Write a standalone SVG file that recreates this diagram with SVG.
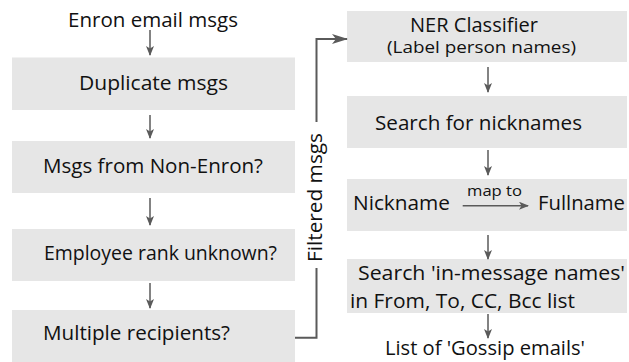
<svg xmlns="http://www.w3.org/2000/svg" width="629" height="362" viewBox="0 0 629 362">
<defs>
<style>
.box{fill:#e6e6e6;}
.t{font-family:"Open Sans","Liberation Sans",sans-serif;font-size:20px;fill:#111;}
.s{font-family:"Open Sans","Liberation Sans",sans-serif;font-size:17px;fill:#111;}
.xs{font-family:"Open Sans","Liberation Sans",sans-serif;font-size:15px;fill:#111;}
.c{text-anchor:middle;}
.ln{stroke:#5a5a5a;stroke-width:1.5;fill:none;}
.cn{stroke:#5a5a5a;stroke-width:2;fill:none;}
</style>
<marker id="ah" markerUnits="userSpaceOnUse" markerWidth="10" markerHeight="8" refX="9" refY="4" orient="auto">
<path d="M0,0 L10,4 L0,8 L2.5,4 z" fill="#5a5a5a"/>
</marker>
<marker id="ahb" markerUnits="userSpaceOnUse" markerWidth="16" markerHeight="10" refX="15" refY="5" orient="auto">
<path d="M0,0 L16,5 L0,10 L4,5 z" fill="#5a5a5a"/>
</marker>
</defs>
<rect width="629" height="362" fill="#ffffff"/>

<g id="n0"><text class="t c" x="153" y="27" textLength="170" lengthAdjust="spacingAndGlyphs">Enron email msgs</text></g>
<g id="n1"><rect class="box" x="12" y="57.5" width="283" height="52.5"/><text class="t c" x="153.5" y="90" textLength="149" lengthAdjust="spacingAndGlyphs">Duplicate msgs</text></g>
<g id="n2"><rect class="box" x="12" y="141" width="283" height="52"/><text class="t c" x="153" y="173" textLength="220" lengthAdjust="spacingAndGlyphs">Msgs from Non-Enron?</text></g>
<g id="n3"><rect class="box" x="12" y="229" width="283" height="52"/><text class="t c" x="160.5" y="260" textLength="233" lengthAdjust="spacingAndGlyphs">Employee rank unknown?</text></g>
<g id="n4"><rect class="box" x="12" y="310" width="283" height="52"/><text class="t c" x="136.5" y="339.5" textLength="187" lengthAdjust="spacingAndGlyphs">Multiple recipients?</text></g>

<g id="n5"><rect class="box" x="347" y="11" width="280" height="51"/><text class="t c" x="474" y="31.7" textLength="128" lengthAdjust="spacingAndGlyphs">NER Classifier</text><text class="s c" x="481.5" y="53.3" textLength="189" lengthAdjust="spacingAndGlyphs">(Label person names)</text></g>
<g id="n6"><rect class="box" x="347" y="96" width="280" height="52"/><text class="t c" x="478.5" y="130" textLength="207" lengthAdjust="spacingAndGlyphs">Search for nicknames</text></g>
<g id="n7"><rect class="box" x="347" y="179" width="280" height="52"/><text class="t" x="353" y="209.5" textLength="97" lengthAdjust="spacingAndGlyphs">Nickname</text><text class="xs" x="467" y="196" textLength="55" lengthAdjust="spacingAndGlyphs">map to</text><line class="ln" x1="462.7" y1="205.7" x2="528" y2="205.7" marker-end="url(#ah)"/><text class="t" x="538" y="209.5" textLength="87" lengthAdjust="spacingAndGlyphs">Fullname</text></g>
<g id="n8"><rect class="box" x="347" y="259" width="280" height="54"/><text class="t" x="358" y="280" textLength="267" lengthAdjust="spacingAndGlyphs">Search 'in-message names'</text><text class="t" x="350" y="308" textLength="225" lengthAdjust="spacingAndGlyphs">in From, To, CC, Bcc list</text></g>
<g id="n9"><text class="t c" x="485" y="355" textLength="200" lengthAdjust="spacingAndGlyphs">List of 'Gossip emails'</text></g>

<g id="connectors">
<line class="ln" x1="150" y1="30" x2="150" y2="55" marker-end="url(#ah)"/>
<line class="ln" x1="150" y1="115" x2="150" y2="138" marker-end="url(#ah)"/>
<line class="ln" x1="150" y1="198" x2="150" y2="225" marker-end="url(#ah)"/>
<line class="ln" x1="150" y1="283" x2="150" y2="308" marker-end="url(#ah)"/>
<line class="ln" x1="488" y1="67" x2="488" y2="92" marker-end="url(#ah)"/>
<line class="ln" x1="488" y1="150" x2="488" y2="175" marker-end="url(#ah)"/>
<line class="ln" x1="488" y1="235" x2="488" y2="259" marker-end="url(#ah)"/>
<line class="ln" x1="488" y1="314" x2="488" y2="338" marker-end="url(#ah)"/>
<polyline class="cn" points="295,337.7 316.5,337.7 316.5,268"/>
<polyline class="cn" points="316.5,122 316.5,39 347,39" marker-end="url(#ahb)"/>
<text class="t c" transform="translate(321.5,197.5) rotate(-90)" x="0" y="0" textLength="129" lengthAdjust="spacingAndGlyphs">Filtered msgs</text>
</g>
</svg>
